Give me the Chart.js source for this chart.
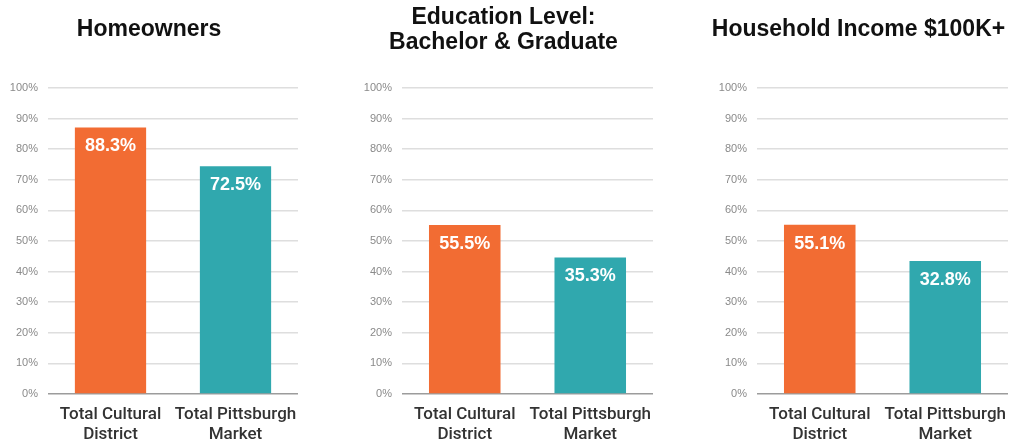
<!DOCTYPE html>
<html>
<head>
<meta charset="utf-8">
<script src="https://cdn.jsdelivr.net/npm/chart.js@4.4.1/dist/chart.umd.min.js"></script>
<style>
  body { margin: 0; background: #fff; }
  canvas { position: absolute; top: 0; }
</style>
</head>
<body>
<canvas id="chart1" width="320" height="445" style="left:0px"></canvas>
<canvas id="chart2" width="320" height="445" style="left:354px"></canvas>
<canvas id="chart3" width="316" height="445" style="left:709px"></canvas>
<script>
// categories shared by all three panels
var categories = [["Total Cultural", "District"], ["Total Pittsburgh", "Market"]];

// bar heights as drawn in the picture (the printed labels differ from the bar heights)
var homeowners = [87.1, 74.4];
var education = [55.2, 44.6];
var income = [55.3, 43.5];

// labels printed inside the bars
var homeownersLabels = ["88.3%", "72.5%"];
var educationLabels = ["55.5%", "35.3%"];
var incomeLabels = ["55.1%", "32.8%"];

var yTicks = [0, 10, 20, 30, 40, 50, 60, 70, 80, 90, 100];

var orange = '#f26c33';
var teal = '#30a8ae';

// writes the value label inside the top of each bar
var barLabels = {
    id: 'barLabels',
    afterDatasetsDraw: function(chart) {
        var ctx = chart.ctx;
        var texts = chart.options.plugins.barLabels.texts;
        var meta = chart.getDatasetMeta(0);
        ctx.save();
        ctx.fillStyle = '#fff';
        ctx.font = 'bold 18px "Liberation Sans", Arial, sans-serif';
        ctx.textAlign = 'center';
        ctx.textBaseline = 'middle';
        meta.data.forEach(function(bar, i) {
            ctx.fillText(texts[i], bar.x, bar.y + 19);
        });
        ctx.restore();
    }
};

function makeChart(id, title, values, texts, padRight, titlePad) {
    var chrt = document.getElementById(id).getContext("2d");
    return new Chart(chrt, {
        type: 'bar',
        data: {
            labels: categories,
            datasets: [{
                data: values,
                backgroundColor: [orange, teal],
                borderWidth: 0,
                barPercentage: 0.57,
                categoryPercentage: 1
            }]
        },
        options: {
            responsive: false,
            animation: false,
            layout: { padding: { left: 0, right: padRight, top: 0, bottom: 0 } },
            plugins: {
                legend: { display: false },
                tooltip: { enabled: false },
                title: {
                    display: true,
                    text: title,
                    color: '#111',
                    font: { family: '"Liberation Sans", Arial, sans-serif', size: 23, weight: 'bold', lineHeight: 1.087 },
                    padding: titlePad
                },
                barLabels: { texts: texts }
            },
            scales: {
                y: {
                    min: 0,
                    max: 100,
                    afterBuildTicks: function(axis) {
                        axis.ticks = yTicks.map(function(v) { return { value: v }; });
                    },
                    afterFit: function(axis) { axis.width = 48; },
                    ticks: {
                        callback: function(v) { return v + '%'; },
                        color: '#8a8a8a',
                        font: { family: '"Liberation Sans", Arial, sans-serif', size: 11 },
                        padding: 10
                    },
                    grid: {
                        color: function(c) { return c.tick && c.tick.value === 0 ? '#9c9c9c' : '#dedede'; },
                        lineWidth: 1.5,
                        drawTicks: false
                    },
                    border: { display: false }
                },
                x: {
                    afterFit: function(axis) { axis.height = 51; },
                    grid: { display: false },
                    border: { display: false },
                    ticks: {
                        color: '#333',
                        font: { family: 'Roboto, "Liberation Sans", sans-serif', size: 17, weight: 500, lineHeight: 1.15 },
                        padding: 3,
                        maxRotation: 0,
                        autoSkip: false
                    }
                }
            }
        },
        plugins: [barLabels]
    });
}

makeChart("chart1", "Homeowners", homeowners, homeownersLabels, 22, { top: 17, bottom: 46 });
makeChart("chart2", ["Education Level:", "Bachelor & Graduate"], education, educationLabels, 21, { top: 5, bottom: 33 });
makeChart("chart3", "Household Income $100K+", income, incomeLabels, 17, { top: 17, bottom: 46 });
</script>
</body>
</html>
